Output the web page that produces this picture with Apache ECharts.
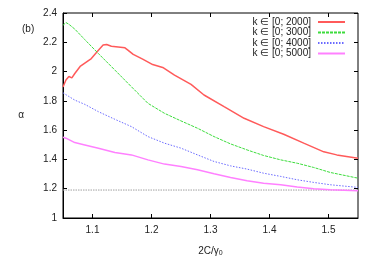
<!DOCTYPE html>
<html><head><meta charset="utf-8">
<script src="https://cdn.jsdelivr.net/npm/echarts@6/dist/echarts.min.js"></script>
<style>html,body{margin:0;padding:0;background:#fff}#c{width:374px;height:262px}</style>
</head><body><div id="c"></div>
<script>
const seriesNames = ['k ∈ [0; 2000]', 'k ∈ [0; 3000]', 'k ∈ [0; 4000]', 'k ∈ [0; 5000]'];
const xTicks = [1.1, 1.2, 1.3, 1.4, 1.5];
const yTicks = [1, 1.2, 1.4, 1.6, 1.8, 2, 2.2, 2.4];

const xRed = [1.05,1.055,1.06,1.065,1.07,1.079,1.087,1.098,1.11,1.118,1.124,1.132,1.155,1.16,1.169,1.185,1.202,1.219,1.239,1.267,1.289,1.323,1.357,1.39,1.424,1.458,1.492,1.514,1.55];
const yRed = [1.895,1.942,1.966,1.957,1.987,2.035,2.058,2.089,2.146,2.181,2.185,2.173,2.162,2.146,2.117,2.085,2.048,2.028,1.976,1.912,1.840,1.760,1.681,1.624,1.572,1.511,1.452,1.431,1.408];

const xOther = [1.05,1.055,1.06,1.07,1.087,1.11,1.138,1.166,1.194,1.222,1.25,1.278,1.306,1.334,1.362,1.39,1.419,1.447,1.475,1.503,1.55];
const yGreen = [2.316,2.335,2.323,2.29,2.218,2.123,2.010,1.896,1.783,1.715,1.663,1.613,1.556,1.506,1.465,1.427,1.397,1.374,1.345,1.311,1.272];
const yBlue  = [1.855,1.842,1.83,1.805,1.776,1.726,1.674,1.624,1.556,1.511,1.477,1.431,1.386,1.356,1.334,1.306,1.284,1.261,1.243,1.227,1.209];
const yMag   = [1.551,1.545,1.535,1.515,1.499,1.477,1.447,1.431,1.397,1.368,1.352,1.329,1.302,1.277,1.254,1.238,1.227,1.211,1.200,1.193,1.186];
const xGray = [1.05, 1.55];
const yGray = [1.191, 1.191];

const pair = (xs, ys) => xs.map((x, i) => [x, ys[i]]);
const font = 'Liberation Sans, Arial, sans-serif';

const chart = echarts.init(document.getElementById('c'));
const baseLine = { type: 'line', showSymbol: false, symbol: 'none', animation: false, xAxisIndex: 0, yAxisIndex: 0 };
chart.setOption({
  animation: false,
  title: { text: '(b)', left: 17, top: 19, textStyle: { fontFamily: font, fontSize: 10, fontWeight: 'normal', color: '#222' } },
  grid: { left: 63, right: 16, top: 13, bottom: 44, show: true, borderColor: '#000', borderWidth: 1 },
  legend: {
    data: seriesNames, orient: 'vertical', right: 28, top: 17, align: 'right',
    itemWidth: 27, itemHeight: 6, itemGap: 0.5, padding: 0,
    itemStyle: { opacity: 0 },
    textStyle: { fontFamily: font, fontSize: 10, lineHeight: 10, color: '#222', padding: [0, 2, 0, 0] }
  },
  xAxis: [{
    type: 'value', min: 1.05, max: 1.55,
    name: '2C/γ{sub|0}', nameLocation: 'middle', nameGap: 27,
    nameTextStyle: { fontFamily: font, fontSize: 10, color: '#222', rich: { sub: { fontSize: 7, verticalAlign: 'bottom', padding: [5, 0, 0, 0] } } },
    axisLine: { show: true, lineStyle: { color: '#000' } },
    axisTick: { show: true, inside: true, length: 4, customValues: xTicks, lineStyle: { color: '#000' } },
    axisLabel: { customValues: xTicks, fontFamily: font, fontSize: 10, color: '#222', margin: 7, formatter: v => v.toFixed(1) },
    splitLine: { show: false }
  }, {
    type: 'value', min: 1.05, max: 1.55, position: 'top',
    axisLine: { show: false },
    axisTick: { show: true, inside: true, length: 4, customValues: xTicks, lineStyle: { color: '#000' } },
    axisLabel: { show: false }, splitLine: { show: false }
  }],
  yAxis: [{
    type: 'value', min: 1, max: 2.4, interval: 0.2,
    name: 'α', nameLocation: 'middle', nameGap: 39, nameRotate: 0,
    nameTextStyle: { fontFamily: font, fontSize: 10, color: '#222' },
    axisLine: { show: true, lineStyle: { color: '#000' } },
    axisTick: { show: true, inside: true, length: 4, lineStyle: { color: '#000' } },
    axisLabel: { fontFamily: font, fontSize: 10, color: '#222', margin: 6, formatter: v => String(Math.round(v * 10) / 10) },
    splitLine: { show: false }
  }, {
    type: 'value', min: 1, max: 2.4, interval: 0.2, position: 'right',
    axisLine: { show: false },
    axisTick: { show: true, inside: true, length: 4, lineStyle: { color: '#000' } },
    axisLabel: { show: false }, splitLine: { show: false }
  }],
  series: [
    Object.assign({}, baseLine, { name: seriesNames[0], data: pair(xRed, yRed), color: '#ff5a5a', lineStyle: { color: '#ff5a5a', width: 1.5, type: 'solid' } }),
    Object.assign({}, baseLine, { name: seriesNames[1], data: pair(xOther, yGreen), color: '#3ddc3d', lineStyle: { color: '#3ddc3d', width: 1, type: [3, 1] } }),
    Object.assign({}, baseLine, { name: seriesNames[2], data: pair(xOther, yBlue), color: '#6a6aff', lineStyle: { color: '#6a6aff', width: 1, type: [1.5, 1.5] } }),
    Object.assign({}, baseLine, { name: seriesNames[3], data: pair(xOther, yMag), color: '#ff80ff', lineStyle: { color: '#ff80ff', width: 1.5, type: 'solid' } }),
    Object.assign({}, baseLine, { name: 'gray', data: pair(xGray, yGray), color: '#a0a0a0', lineStyle: { color: '#a0a0a0', width: 1, type: [1.5, 1] }, z: 1 })
  ]
});
</script></body></html>
